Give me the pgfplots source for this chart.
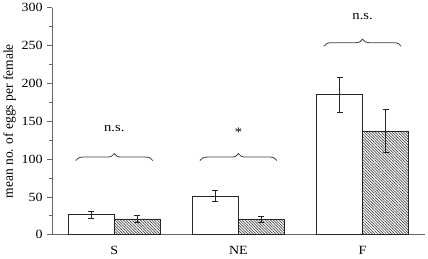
\documentclass[border=0pt]{standalone}
\usepackage{pgfplots}
\pgfplotsset{compat=1.18}
\usepackage{fontspec}
\setmainfont{Liberation Serif}
\newfontfamily\tickfont[FakeStretch=1.12]{Liberation Serif}
\usetikzlibrary{patterns.meta,decorations.pathreplacing}
\begin{document}
\begin{tikzpicture}
\begin{axis}[
  scale only axis, width=372pt, height=227pt,
  xmin=-0.5, xmax=2.5, ymin=0, ymax=300,
  axis x line*=bottom, axis y line*=left,
  axis line style={-, draw=black!60, line width=1pt},
  xtick={0,1,2}, xticklabels={S,NE,F},
  x tick style={draw=none},
  extra x ticks={0.5,1.5,2.5}, extra x tick labels={},
  extra x tick style={tick style={draw=black!60, line width=0.8pt}, major tick length=5pt},
  ytick={0,50,...,300}, minor y tick num=1,
  y tick style={draw=black!60, line width=0.8pt},
  major tick length=5pt, minor tick length=3pt,
  tick align=outside,
  /pgf/number format/assume math mode=true,
  tick label style={font=\tickfont\fontsize{12.5}{14}\selectfont},
  yticklabel style={xshift=-1pt},
  ylabel={mean no. of eggs per female},
  ylabel style={font=\fontsize{13.5}{15}\selectfont, yshift=-1pt},
  xticklabel style={yshift=-3pt},
  bar width=0.37, bar shift=0pt,
  clip=false,
]
\addplot[ybar, draw=black!85, line width=0.7pt, fill=white,
  error bars/.cd, y dir=both, y explicit,
  error bar style={black!85, line width=0.8pt},
  error mark options={rotate=90, mark size=3pt, black!85, line width=0.8pt}]
  coordinates {(-0.185,26.5) +- (0,5) (0.815,51) +- (0,7) (1.815,185) +- (0,23)};
\addplot[ybar, draw=black!85, line width=0.7pt,
  pattern={Lines[angle=-45,distance=2pt,line width=0.7pt]}, pattern color=black!70,
  error bars/.cd, y dir=both, y explicit,
  error bar style={black!85, line width=0.8pt},
  error mark options={rotate=90, mark size=3pt, black!85, line width=0.8pt}]
  coordinates {(0.185,21) +- (0,4) (1.185,20) +- (0,4) (2.185,137) +- (0,28)};

\draw[black!75, line width=0.8pt, decorate, decoration={brace, amplitude=7pt}]
  (axis cs:-0.31,98) -- (axis cs:0.31,98);
\draw[black!75, line width=0.8pt, decorate, decoration={brace, amplitude=7pt}]
  (axis cs:0.69,98) -- (axis cs:1.31,98);
\draw[black!75, line width=0.8pt, decorate, decoration={brace, amplitude=7pt}]
  (axis cs:1.69,249) -- (axis cs:2.31,249);
\node[font=\tickfont\fontsize{13}{15}\selectfont] at (axis cs:0,140) {n.s.};
\node[font=\tickfont\fontsize{13}{15}\selectfont] at (axis cs:1,136) {*};
\node[font=\tickfont\fontsize{13}{15}\selectfont] at (axis cs:2,288) {n.s.};
\end{axis}
\end{tikzpicture}
\end{document}
